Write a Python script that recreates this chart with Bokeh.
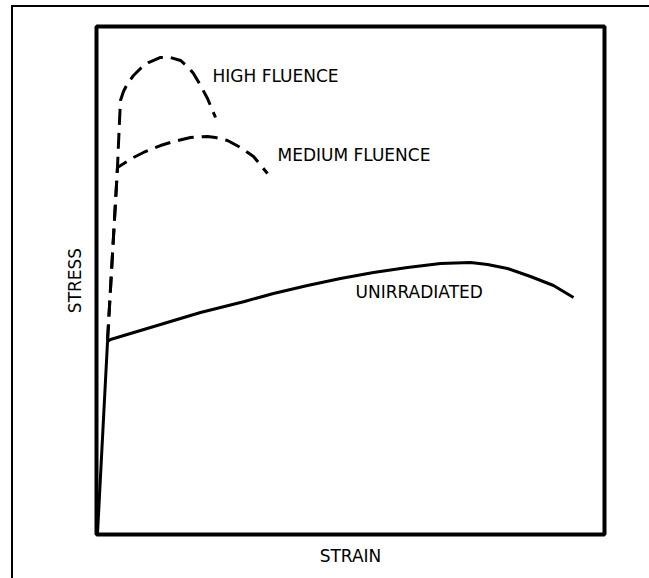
from bokeh.plotting import figure
from bokeh.models import Range1d, ColumnDataSource
from bokeh.core.properties import value
from bokeh.embed import file_html
from bokeh.resources import INLINE

# Data (arbitrary units: strain 0-100, stress 0-100)
unirr_strain = [0.2, 2.17, 2.76, 10.63, 20.47, 29.13, 34.84, 41.54, 48.03, 54.53, 61.22,
                67.72, 73.62, 76.97, 80.91, 85.43, 89.96, 93.90]
unirr_stress = [0.2, 37.99, 38.39, 40.75, 43.70, 45.87, 47.44, 49.02, 50.39, 51.57, 52.56,
                53.35, 53.54, 53.15, 52.36, 50.79, 49.02, 46.65]

high_strain = [2.17, 4.13, 4.53, 4.72, 5.31, 6.10, 7.28, 8.66, 10.24, 12.60, 14.57,
               16.54, 18.11, 19.09, 20.47, 21.85, 23.43]
high_stress = [38.19, 72.24, 81.50, 85.43, 87.20, 88.78, 90.35, 91.73, 92.91, 93.90, 93.90,
               93.31, 91.93, 90.75, 88.39, 85.83, 82.09]

med_strain = [2.17, 4.13, 7.28, 9.25, 12.60, 15.16, 18.50, 21.85, 23.43, 25.79, 28.35,
              30.91, 33.66]
med_stress = [38.19, 72.24, 74.21, 75.20, 76.57, 77.36, 78.15, 78.35, 78.15, 77.56, 76.18,
              74.41, 71.06]

label_text = ["HIGH  FLUENCE", "MEDIUM  FLUENCE", "UNIRRADIATED"]
label_x = [22.83, 35.63, 50.98]
label_y = [90.26, 74.61, 47.83]

x_title = "STRAIN"
y_title = "STRESS"

FONT = "DejaVu Sans"

p = figure(width=636, height=571, output_backend="svg", toolbar_location=None,
           x_range=Range1d(0, 100), y_range=Range1d(0, 100),
           frame_width=508, frame_height=508,
           min_border_left=83, min_border_top=19, min_border_right=45, min_border_bottom=44)

p.styles = {"border-left": "2px solid black", "border-top": "2px solid black",
            "margin-left": "11px", "margin-top": "5px"}

p.outline_line_color = "black"
p.outline_line_width = 4
p.xgrid.visible = False
p.ygrid.visible = False

for ax, title in ((p.xaxis[0], x_title), (p.yaxis[0], y_title)):
    ax.axis_label = title
    ax.axis_label_text_font = FONT
    ax.axis_label_text_font_size = "17px"
    ax.axis_label_text_font_style = "normal"
    ax.axis_label_text_color = "black"
    ax.axis_line_color = None
    ax.major_tick_line_color = None
    ax.minor_tick_line_color = None
    ax.major_label_text_font_size = "0px"
    ax.major_label_text_color = None
p.xaxis[0].axis_label_standoff = 5
p.yaxis[0].axis_label_standoff = 6

p.line(unirr_strain, unirr_stress, line_color="black", line_width=3)
p.line(high_strain, high_stress, line_color="black", line_width=3, line_dash="16 8")
p.line(med_strain, med_stress, line_color="black", line_width=3, line_dash="16 8")

src = ColumnDataSource(dict(x=label_x, y=label_y, t=label_text))
p.text(x="x", y="y", text="t", source=src, text_font=value(FONT), text_font_size="17px",
       text_baseline="middle", text_align="left", text_color="black")

open("out.html", "w").write(file_html(p, INLINE))
